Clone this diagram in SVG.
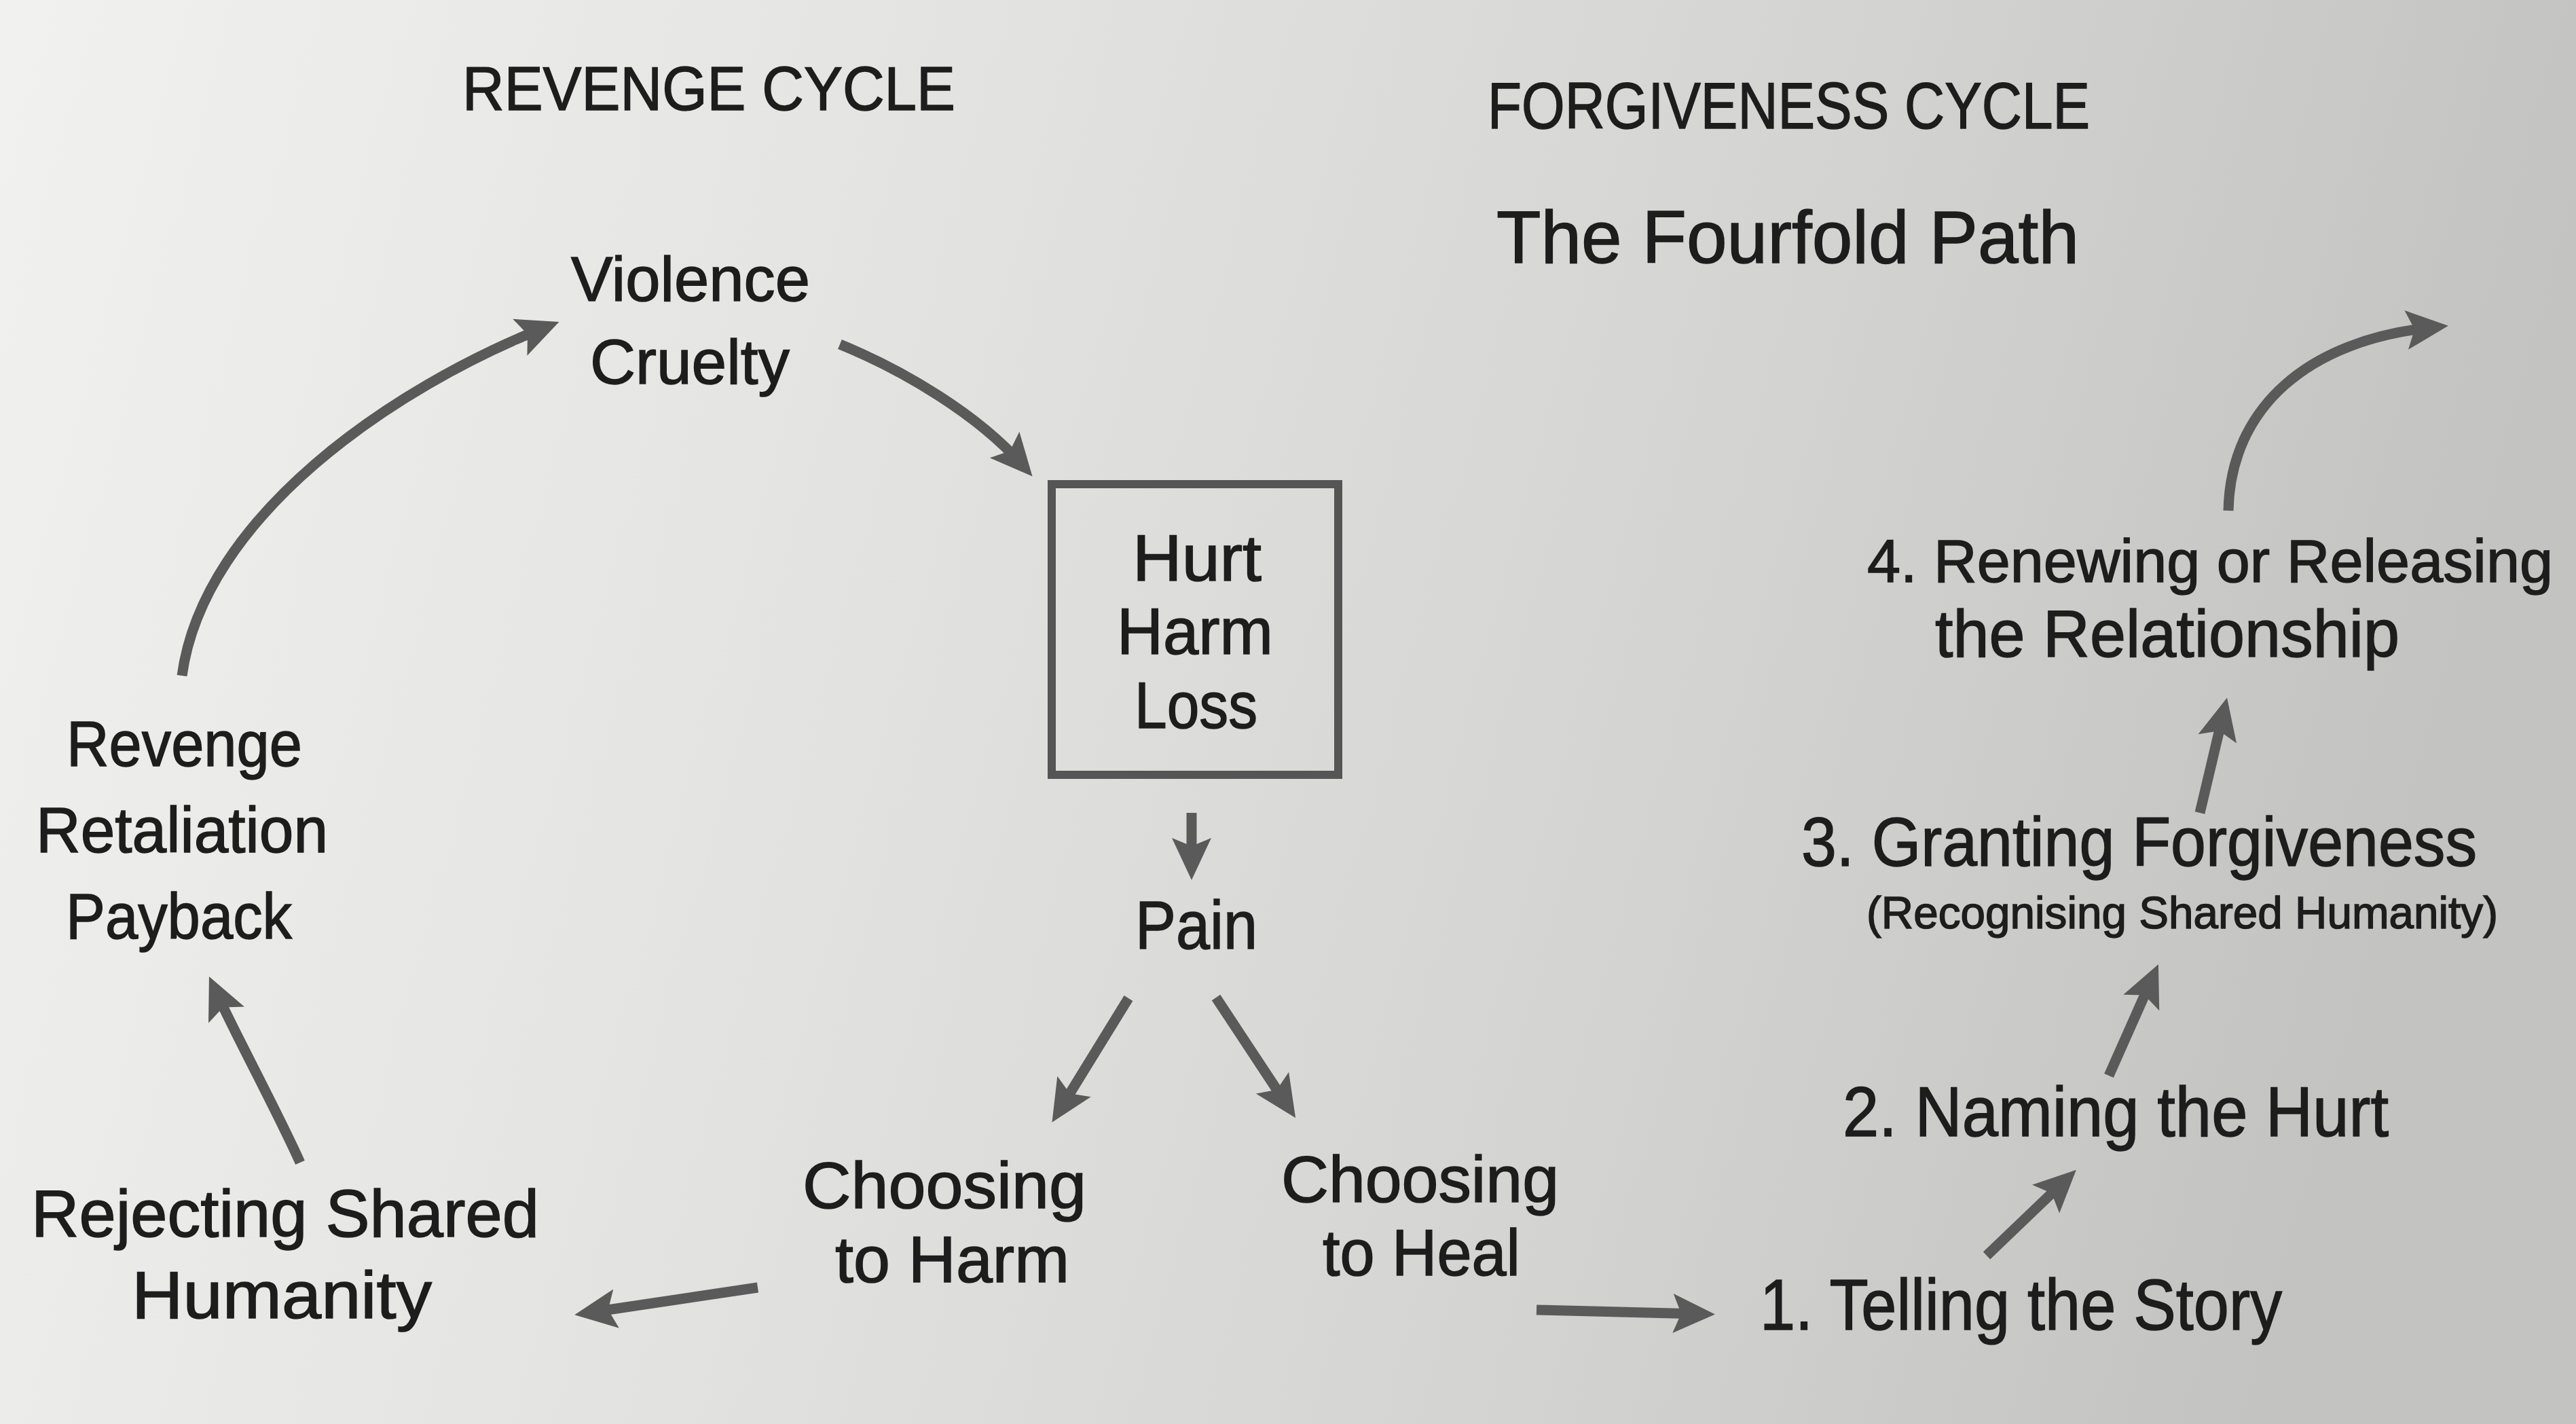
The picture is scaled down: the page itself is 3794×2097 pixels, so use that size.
<svg xmlns="http://www.w3.org/2000/svg" width="3794" height="2097" viewBox="0 0 3794 2097">
  <defs>
    <linearGradient id="paper" x1="0" y1="0" x2="1" y2="0.15">
      <stop offset="0" stop-color="#f1f1ef"/>
      <stop offset="0.35" stop-color="#e4e4e2"/>
      <stop offset="0.7" stop-color="#d4d5d3"/>
      <stop offset="1" stop-color="#c3c4c2"/>
    </linearGradient>
    <marker id="head" markerUnits="userSpaceOnUse" viewBox="-2 -32 66 64" markerWidth="66" markerHeight="64" refX="40" refY="0" orient="auto">
      <path d="M0,-29 L62,0 L0,29 L12,0 Z" fill="#5a5a5a"/>
    </marker>
    <style>
      .t { font-family: "Liberation Sans", "Open Sans", sans-serif; fill: #1d1d1d; stroke: #1d1d1d; stroke-width: 1.5px; }
      .c { fill: none; stroke: #5a5a5a; stroke-width: 15; stroke-linecap: butt; marker-end: url(#head); }
      .box { fill: none; stroke: #555; stroke-width: 12; }
    </style>
  </defs>
  <rect x="0" y="0" width="3794" height="2097" fill="url(#paper)"/>

  <g id="title-revenge">
    <text class="t" style="font-size:90px" x="681" y="162" textLength="726" lengthAdjust="spacingAndGlyphs">REVENGE CYCLE</text>
  </g>
  <g id="title-forgiveness">
    <text class="t" style="font-size:96px" x="2191" y="189" textLength="887" lengthAdjust="spacingAndGlyphs">FORGIVENESS CYCLE</text>
  </g>
  <g id="subtitle-fourfold">
    <text class="t" style="font-size:110px" x="2204" y="387" textLength="858" lengthAdjust="spacingAndGlyphs">The Fourfold Path</text>
  </g>

  <g id="node-violence">
    <text class="t" style="font-size:93px" x="841" y="443" textLength="352" lengthAdjust="spacingAndGlyphs">Violence</text>
    <text class="t" style="font-size:93px" x="869" y="565" textLength="294" lengthAdjust="spacingAndGlyphs">Cruelty</text>
  </g>

  <g id="node-hurt">
    <rect class="box" x="1549" y="713" width="422" height="428"/>
    <text class="t" style="font-size:96px" x="1668" y="855" textLength="190" lengthAdjust="spacingAndGlyphs">Hurt</text>
    <text class="t" style="font-size:96px" x="1645" y="963" textLength="230" lengthAdjust="spacingAndGlyphs">Harm</text>
    <text class="t" style="font-size:96px" x="1671" y="1072" textLength="181" lengthAdjust="spacingAndGlyphs">Loss</text>
  </g>

  <g id="node-pain">
    <text class="t" style="font-size:100px" x="1672" y="1397" textLength="180" lengthAdjust="spacingAndGlyphs">Pain</text>
  </g>

  <g id="node-revenge">
    <text class="t" style="font-size:95px" x="98" y="1128" textLength="347" lengthAdjust="spacingAndGlyphs">Revenge</text>
    <text class="t" style="font-size:95px" x="53" y="1255" textLength="430" lengthAdjust="spacingAndGlyphs">Retaliation</text>
    <text class="t" style="font-size:95px" x="97" y="1382" textLength="333" lengthAdjust="spacingAndGlyphs">Payback</text>
  </g>

  <g id="node-rejecting">
    <text class="t" style="font-size:98px" x="46" y="1821" textLength="748" lengthAdjust="spacingAndGlyphs">Rejecting Shared</text>
    <text class="t" style="font-size:98px" x="194" y="1941" textLength="442" lengthAdjust="spacingAndGlyphs">Humanity</text>
  </g>

  <g id="node-harm">
    <text class="t" style="font-size:97px" x="1182" y="1779" textLength="418" lengthAdjust="spacingAndGlyphs">Choosing</text>
    <text class="t" style="font-size:97px" x="1230" y="1888" textLength="345" lengthAdjust="spacingAndGlyphs">to Harm</text>
  </g>

  <g id="node-heal">
    <text class="t" style="font-size:96px" x="1887" y="1770" textLength="409" lengthAdjust="spacingAndGlyphs">Choosing</text>
    <text class="t" style="font-size:96px" x="1948" y="1878" textLength="291" lengthAdjust="spacingAndGlyphs">to Heal</text>
  </g>

  <g id="step-1">
    <text class="t" style="font-size:106px" x="2592" y="1958" textLength="769" lengthAdjust="spacingAndGlyphs">1. Telling the Story</text>
  </g>
  <g id="step-2">
    <text class="t" style="font-size:104px" x="2714" y="1673" textLength="804" lengthAdjust="spacingAndGlyphs">2. Naming the Hurt</text>
  </g>
  <g id="step-3">
    <text class="t" style="font-size:102px" x="2653" y="1275" textLength="995" lengthAdjust="spacingAndGlyphs">3. Granting Forgiveness</text>
    <text class="t" style="font-size:66px" x="2749" y="1367" textLength="930" lengthAdjust="spacingAndGlyphs">(Recognising Shared Humanity)</text>
  </g>
  <g id="step-4">
    <text class="t" style="font-size:89px" x="2750" y="857" textLength="1010" lengthAdjust="spacingAndGlyphs">4. Renewing or Releasing</text>
    <text class="t" style="font-size:98px" x="2850" y="967" textLength="684" lengthAdjust="spacingAndGlyphs">the Relationship</text>
  </g>

  <g id="connectors">
    <path class="c" d="M268,995 C300,760 580,570 803,482"/>
    <path class="c" d="M1237,507 C1330,545 1440,610 1506,685"/>
    <path class="c" d="M1755,1197 L1755,1274"/>
    <path class="c" d="M1662,1470 L1561,1634"/>
    <path class="c" d="M1791,1469 L1896,1628"/>
    <path class="c" d="M1116,1896 L868,1933"/>
    <path class="c" d="M442,1712 C410,1640 345,1520 317,1458"/>
    <path class="c" d="M2263,1929 L2504,1935"/>
    <path class="c" d="M2926,1849 L3042,1738"/>
    <path class="c" d="M3106,1584 L3170,1440"/>
    <path class="c" d="M3240,1197 L3275,1049"/>
    <path class="c" d="M3282,752 C3285,600 3400,500 3584,482"/>
  </g>
</svg>
